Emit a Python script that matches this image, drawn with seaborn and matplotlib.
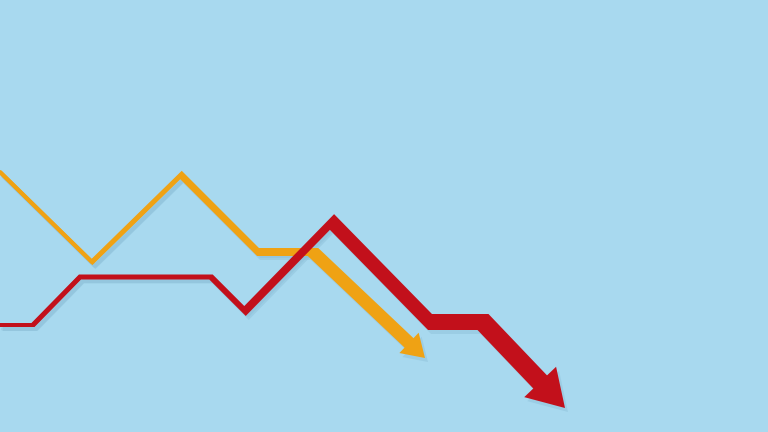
import numpy as np
import pandas as pd
import matplotlib
matplotlib.use("Agg")
import matplotlib.pyplot as plt
import seaborn as sns
from matplotlib.patches import Polygon

# Data (pixel-space positions; y grows downward)
orange_x = [0, 92, 181, 258, 313, 425]
orange_y = [172, 262, 175, 252, 252, 358]
orange_w = [4, 5, 7, 8, 13]          # segment widths (px)

red_x = [0, 33, 80, 211, 245, 332, 430, 483, 565]
red_y = [325, 325, 277, 277, 311, 222, 322, 322, 408]
red_w = [4, 5, 5, 6, 8, 14, 16, 19]

BG = "#A8D9EF"
ORANGE = "#EFA214"
RED = "#C2101B"
SHADOW = "#8CBFD8"

sns.set_theme(style="white")
W, H = 768, 432
fig = plt.figure(figsize=(W / 100, H / 100), dpi=100)
fig.patch.set_facecolor(BG)
ax = fig.add_axes([0, 0, 1, 1])
ax.set_facecolor(BG)
ax.set_xlim(0, W)
ax.set_ylim(H, 0)
ax.axis("off")

PT = 72 / 100  # px -> points


def _intersect(p1, d1, p2, d2):
    A = np.array([[d1[0], -d2[0]], [d1[1], -d2[1]]])
    if abs(np.linalg.det(A)) < 1e-9:
        return p2
    t = np.linalg.solve(A, p2 - p1)
    return p1 + t[0] * d1


def draw_arrow(xs, ys, ws, color, head_len, head_w, z, shadow=False):
    xs = np.array(xs, float)
    ys = np.array(ys, float)
    pts = np.column_stack([xs, ys])
    d = pts[-1] - pts[-2]
    u = d / np.hypot(*d)
    base = pts[-1] - u * head_len
    P = pts.copy()
    P[-1] = base + u * 1.5
    off = np.array([3, 4]) if shadow else np.array([0, 0])
    P = P + off
    col = SHADOW if shadow else color
    alpha = 0.45 if shadow else 1.0
    zz = z - 5 if shadow else z
    # thin base line through seaborn
    df = pd.DataFrame({"x": P[:, 0], "y": P[:, 1]})
    sns.lineplot(data=df, x="x", y="y", sort=False, color=col, lw=ws[0] * PT,
                 ax=ax, zorder=zz - 0.1, alpha=alpha, estimator=None)
    # variable-width polygon with miter joins
    dirs = [(P[i + 1] - P[i]) / np.hypot(*(P[i + 1] - P[i])) for i in range(len(P) - 1)]
    norms = [np.array([-dd[1], dd[0]]) for dd in dirs]
    left, right = [], []
    left.append(P[0] + norms[0] * ws[0] / 2)
    right.append(P[0] - norms[0] * ws[0] / 2)
    for i in range(1, len(P) - 1):
        for sgn, lst in ((1, left), (-1, right)):
            p1 = P[i] + sgn * norms[i - 1] * ws[i - 1] / 2
            p2 = P[i] + sgn * norms[i] * ws[i] / 2
            lst.append(_intersect(p1, dirs[i - 1], p2, dirs[i]))
    left.append(P[-1] + norms[-1] * ws[-1] / 2)
    right.append(P[-1] - norms[-1] * ws[-1] / 2)
    poly = np.vstack([left, right[::-1]])
    ax.add_patch(Polygon(poly, closed=True, facecolor=col, edgecolor="none",
                         zorder=zz, alpha=alpha))
    n = np.array([-u[1], u[0]])
    tri = [pts[-1] + off, base + n * head_w / 2 + off, base - n * head_w / 2 + off]
    ax.add_patch(Polygon(tri, closed=True, facecolor=col, edgecolor="none",
                         zorder=zz + 0.5, alpha=alpha))


draw_arrow(orange_x, orange_y, orange_w, ORANGE, 22, 28, 5, shadow=True)
draw_arrow(red_x, red_y, red_w, RED, 36, 44, 10, shadow=True)
draw_arrow(orange_x, orange_y, orange_w, ORANGE, 22, 28, 5)
draw_arrow(red_x, red_y, red_w, RED, 36, 44, 10)

fig.savefig("out.png", dpi=100, facecolor=BG)
